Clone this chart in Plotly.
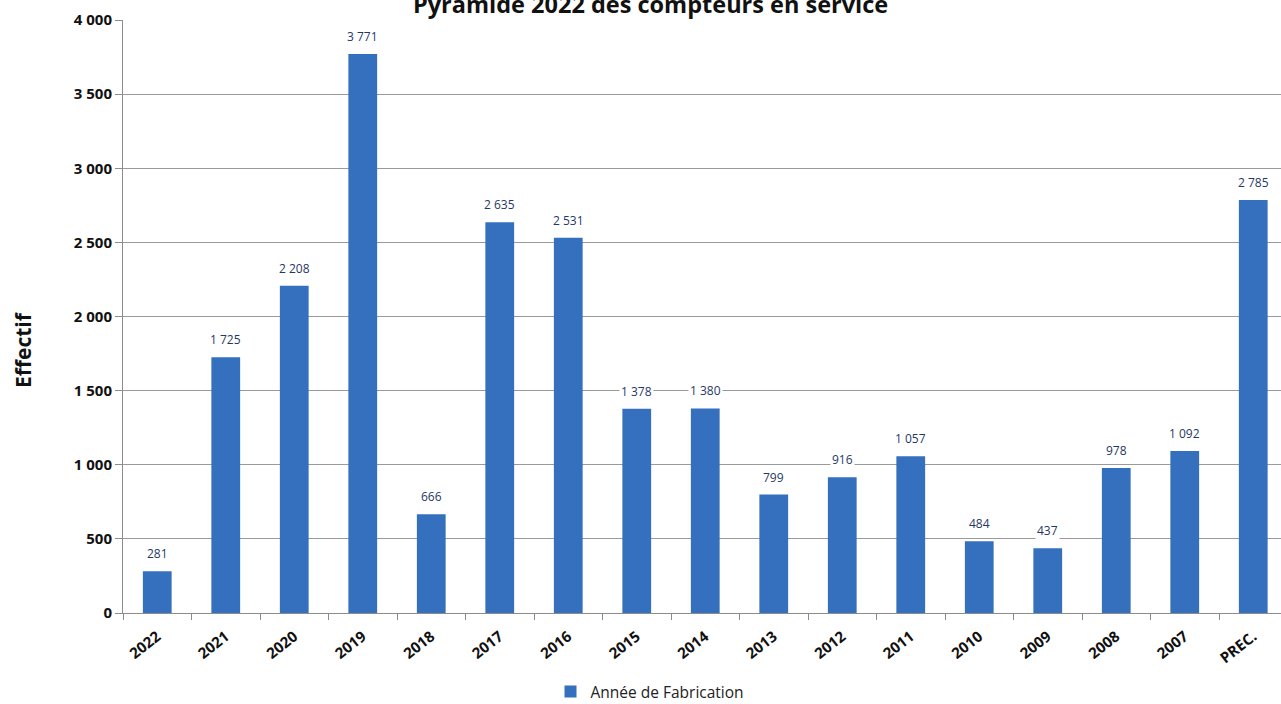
import plotly.graph_objects as go

categories = ["2022", "2021", "2020", "2019", "2018", "2017", "2016", "2015", "2014",
              "2013", "2012", "2011", "2010", "2009", "2008", "2007", "PREC."]
values = [281, 1725, 2208, 3771, 666, 2635, 2531, 1378, 1380,
          799, 916, 1057, 484, 437, 978, 1092, 2785]
y_ticks = [0, 500, 1000, 1500, 2000, 2500, 3000, 3500, 4000]

FONT = "Open Sans"
BAR = "#3470BE"

L, R, T, B = 123, 0, 20, 91
W, H = 1281, 704
PW, PH = W - L - R, H - T - B

fig = go.Figure()
fig.add_trace(go.Bar(
    x=categories, y=values, name="Année de Fabrication",
    marker=dict(color=BAR, line=dict(width=0)),
    width=0.42,
))

annotations = []
for i, (c, v) in enumerate(zip(categories, values)):
    annotations.append(dict(
        x=i, y=v, xref="x", yref="y", text=f"{v:,}".replace(",", " "),
        showarrow=False, yanchor="bottom", yshift=7,
        font=dict(family=FONT, size=12, color="#1F3864"),
        bgcolor="white", borderpad=1,
    ))
# chart title (cut at top like the reference)
annotations.append(dict(
    x=(650 - L) / PW, xref="paper", y=1, yref="paper",
    text="<b>Pyramide 2022 des compteurs en service</b>",
    showarrow=False, yanchor="bottom", yshift=-2.5,
    font=dict(family=FONT, size=23.5, color="#111111"),
))
# y-axis title
annotations.append(dict(
    x=(23 - L) / PW, xref="paper", y=(613 - 350) / PH, yref="paper",
    text="<b>Effectif</b>", textangle=-90, showarrow=False,
    xanchor="center", yanchor="middle",
    font=dict(family=FONT, size=21, color="#111111"),
))

fig.update_layout(
    width=W, height=H,
    margin=dict(l=L, r=R, t=T, b=B, autoexpand=False),
    paper_bgcolor="white", plot_bgcolor="white",
    separators=", ",
    annotations=annotations,
    showlegend=True,
    legend=dict(orientation="h", x=(650 - L) / PW, xanchor="center",
                y=(613 - 692) / PH, yanchor="middle",
                font=dict(family=FONT, size=15.5, color="#222222"),
                itemwidth=30, tracegroupgap=0),
)
fig.update_xaxes(
    type="category", range=[-0.5, 16.405], automargin=False,
    tickangle=-38, tickfont=dict(family=FONT, size=15, color="#111111", weight="bold"),
    ticklabelstandoff=8,
    showline=True, linecolor="#8C8C8C", linewidth=1,
    ticks="outside", ticklen=6, tickcolor="#8C8C8C", tickson="boundaries",
    showgrid=False,
)
fig.update_yaxes(
    range=[0, 4000], tickvals=y_ticks, tickformat=",d", automargin=False,
    tickfont=dict(family=FONT, size=15, color="#111111", weight="bold"),
    showline=True, linecolor="#8C8C8C", linewidth=1,
    ticks="outside", ticklen=7, tickcolor="#8C8C8C",
    showgrid=True, gridcolor="#9A9A9A", gridwidth=1, zeroline=False,
)

fig.write_html("out.html")
